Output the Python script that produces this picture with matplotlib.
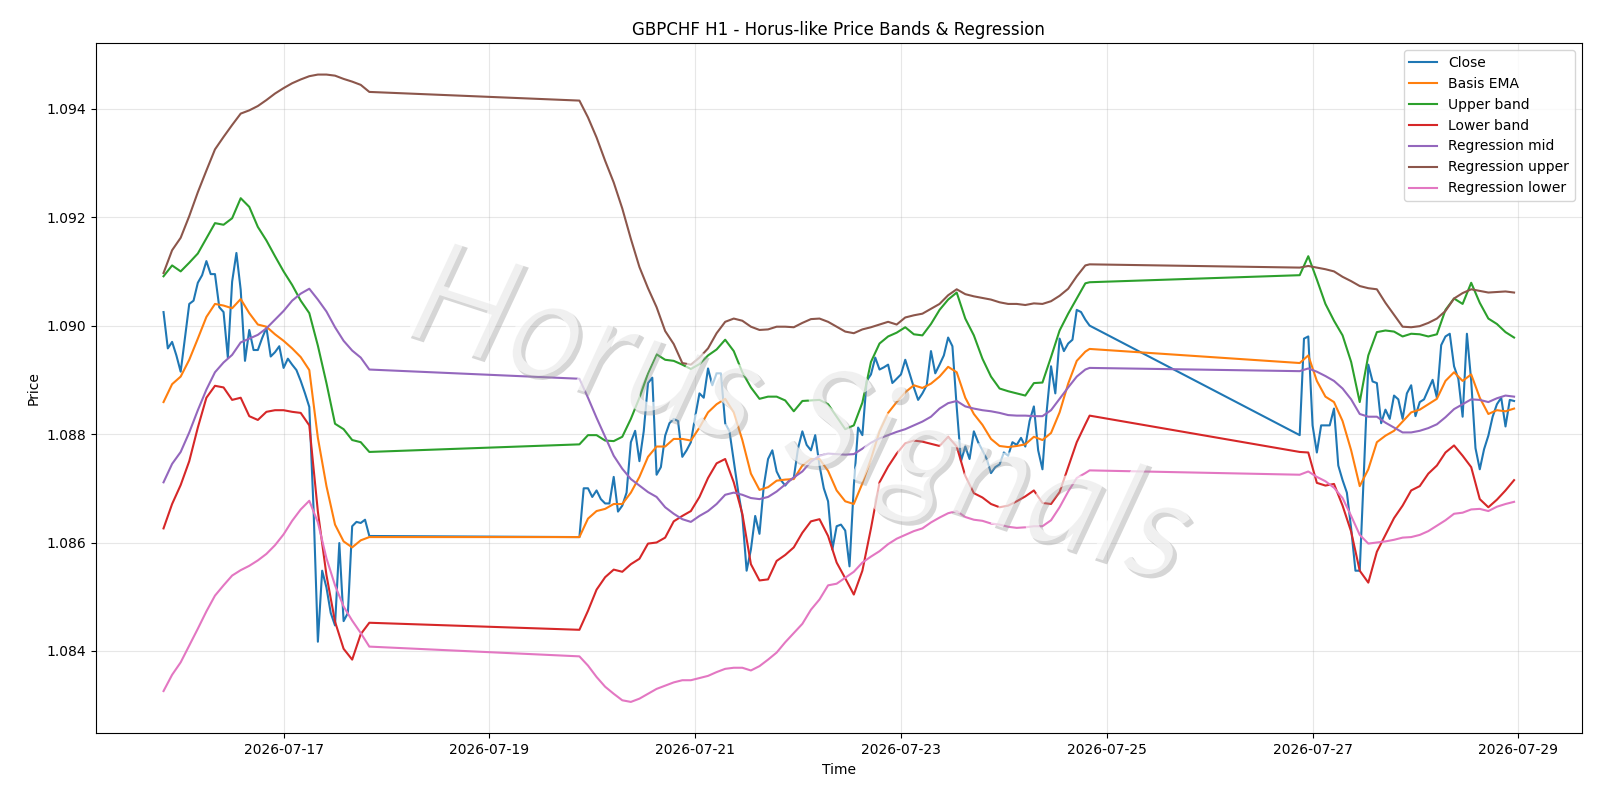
import matplotlib
matplotlib.use('Agg')
import matplotlib.pyplot as plt
import matplotlib.patheffects as pe
import pandas as pd

# Barras H1 - tres blocos de negociacao (fins de semana ficam de fora)
periodos = [('2026-07-15 20:00', '2026-07-17 20:00'),
            ('2026-07-19 21:00', '2026-07-24 20:00'),
            ('2026-07-26 21:00', '2026-07-28 23:00')]

close = [
    # 07-15 20:00 -> 07-17 20:00
    1.09025, 1.08958, 1.08970, 1.08945, 1.08915, 1.08977, 1.09040, 1.09046, 1.09079, 1.09093,
    1.09119, 1.09095, 1.09095, 1.09034, 1.09025, 1.08941, 1.09081, 1.09134, 1.09066, 1.08935,
    1.08992, 1.08955, 1.08955, 1.08977, 1.08996, 1.08943, 1.08951, 1.08962, 1.08922, 1.08939,
    1.08928, 1.08918, 1.08898, 1.08875, 1.08850, 1.08660, 1.08417, 1.08548, 1.08517, 1.08470,
    1.08447, 1.08599, 1.08455, 1.08470, 1.08630, 1.08638, 1.08636, 1.08642, 1.08612,
    # 07-19 21:00 -> 07-24 20:00
    1.08610, 1.08700, 1.08700, 1.08684, 1.08696, 1.08680, 1.08672, 1.08672, 1.08721, 1.08657,
    1.08668, 1.08692, 1.08785, 1.08806, 1.08750, 1.08805, 1.08894, 1.08904, 1.08725, 1.08739,
    1.08797, 1.08820, 1.08828, 1.08824, 1.08758, 1.08770, 1.08785, 1.08832, 1.08875, 1.08867,
    1.08921, 1.08890, 1.08912, 1.08912, 1.08820, 1.08805, 1.08750, 1.08696, 1.08649, 1.08548,
    1.08587, 1.08649, 1.08616, 1.08704, 1.08754, 1.08770, 1.08731, 1.08715, 1.08705, 1.08715,
    1.08719, 1.08774, 1.08805, 1.08780, 1.08770, 1.08798, 1.08742, 1.08700, 1.08676, 1.08587,
    1.08630, 1.08633, 1.08622, 1.08556, 1.08704, 1.08812, 1.08798, 1.08898, 1.08910, 1.08941,
    1.08919, 1.08923, 1.08928, 1.08894, 1.08902, 1.08910, 1.08937, 1.08912, 1.08886, 1.08863,
    1.08875, 1.08890, 1.08953, 1.08912, 1.08928, 1.08945, 1.08978, 1.08962, 1.08850, 1.08750,
    1.08777, 1.08754, 1.08805, 1.08785, 1.08770, 1.08754, 1.08728, 1.08739, 1.08744, 1.08766,
    1.08760, 1.08785, 1.08780, 1.08793, 1.08777, 1.08824, 1.08851, 1.08770, 1.08735, 1.08843,
    1.08925, 1.08875, 1.08976, 1.08953, 1.08967, 1.08974, 1.09029, 1.09025, 1.09011, 1.09000,
    # 07-26 21:00 -> 07-28 23:00
    1.08798, 1.08976, 1.08980, 1.08816, 1.08766, 1.08816, 1.08816, 1.08816, 1.08847, 1.08742,
    1.08715, 1.08692, 1.08626, 1.08548, 1.08548, 1.08735, 1.08928, 1.08897, 1.08894, 1.08820,
    1.08845, 1.08828, 1.08871, 1.08864, 1.08828, 1.08875, 1.08890, 1.08833, 1.08859, 1.08864,
    1.08882, 1.08900, 1.08867, 1.08964, 1.08980, 1.08985, 1.08925, 1.08902, 1.08832, 1.08985,
    1.08898, 1.08774, 1.08735, 1.08772, 1.08797, 1.08832, 1.08855, 1.08867, 1.08814, 1.08863,
    1.08861]

# linhas suaves lidas a cada 2 horas (mais a ultima barra de cada bloco)
basis_ema = [
    1.08859, 1.08892, 1.08906, 1.08937, 1.08976, 1.09016, 1.09040, 1.09037, 1.09032, 1.09049,
    1.09023, 1.09002, 1.08998, 1.08984, 1.08972, 1.08958, 1.08942, 1.08918, 1.08793, 1.08704,
    1.08633, 1.08602, 1.08591, 1.08604, 1.08610,
    1.08610, 1.08644, 1.08658, 1.08662, 1.08671, 1.08671, 1.08692, 1.08721, 1.08758, 1.08777,
    1.08777, 1.08791, 1.08791, 1.08788, 1.08812, 1.08840, 1.08855, 1.08865, 1.08840, 1.08789,
    1.08727, 1.08697, 1.08702, 1.08714, 1.08716, 1.08717, 1.08742, 1.08754, 1.08754, 1.08732,
    1.08696, 1.08676, 1.08671, 1.08709, 1.08754, 1.08805, 1.08839, 1.08859, 1.08877, 1.08890,
    1.08885, 1.08893, 1.08906, 1.08924, 1.08914, 1.08867, 1.08837, 1.08817, 1.08791, 1.08778,
    1.08776, 1.08778, 1.08781, 1.08795, 1.08789, 1.08802, 1.08840, 1.08893, 1.08935, 1.08952,
    1.08957,
    1.08931, 1.08945, 1.08898, 1.08869, 1.08859, 1.08824, 1.08770, 1.08704, 1.08735, 1.08785,
    1.08797, 1.08806, 1.08823, 1.08840, 1.08845, 1.08855, 1.08865, 1.08898, 1.08914, 1.08898,
    1.08910, 1.08867, 1.08837, 1.08844, 1.08842, 1.08847]

upper_band = [
    1.09091, 1.09111, 1.09100, 1.09116, 1.09133, 1.09161, 1.09189, 1.09186, 1.09198, 1.09235,
    1.09219, 1.09182, 1.09157, 1.09128, 1.09100, 1.09075, 1.09046, 1.09023, 1.08963, 1.08894,
    1.08819, 1.08809, 1.08789, 1.08785, 1.08767,
    1.08781, 1.08798, 1.08798, 1.08788, 1.08787, 1.08795, 1.08828, 1.08867, 1.08912, 1.08947,
    1.08937, 1.08935, 1.08928, 1.08920, 1.08929, 1.08945, 1.08956, 1.08974, 1.08953, 1.08914,
    1.08886, 1.08865, 1.08869, 1.08869, 1.08862, 1.08842, 1.08861, 1.08862, 1.08863, 1.08855,
    1.08832, 1.08809, 1.08816, 1.08858, 1.08933, 1.08967, 1.08980, 1.08987, 1.08997, 1.08984,
    1.08982, 1.09003, 1.09029, 1.09048, 1.09061, 1.09013, 1.08982, 1.08939, 1.08906, 1.08884,
    1.08879, 1.08875, 1.08871, 1.08894, 1.08895, 1.08942, 1.08991, 1.09022, 1.09050, 1.09078,
    1.09080,
    1.09093, 1.09128, 1.09085, 1.09040, 1.09009, 1.08982, 1.08933, 1.08859, 1.08945, 1.08988,
    1.08991, 1.08989, 1.08980, 1.08985, 1.08984, 1.08980, 1.08984, 1.09029, 1.09050, 1.09040,
    1.09079, 1.09042, 1.09013, 1.09003, 1.08988, 1.08978]

lower_band = [
    1.08626, 1.08671, 1.08706, 1.08750, 1.08812, 1.08867, 1.08889, 1.08886, 1.08863, 1.08867,
    1.08833, 1.08826, 1.08841, 1.08844, 1.08844, 1.08841, 1.08839, 1.08816, 1.08657, 1.08540,
    1.08454, 1.08404, 1.08384, 1.08431, 1.08452,
    1.08439, 1.08474, 1.08513, 1.08536, 1.08550, 1.08546, 1.08560, 1.08570, 1.08598, 1.08600,
    1.08609, 1.08639, 1.08649, 1.08658, 1.08684, 1.08719, 1.08746, 1.08754, 1.08711, 1.08653,
    1.08560, 1.08530, 1.08532, 1.08566, 1.08577, 1.08591, 1.08618, 1.08639, 1.08643, 1.08612,
    1.08563, 1.08534, 1.08504, 1.08548, 1.08626, 1.08711, 1.08740, 1.08764, 1.08783, 1.08788,
    1.08786, 1.08782, 1.08778, 1.08795, 1.08777, 1.08723, 1.08691, 1.08683, 1.08671, 1.08665,
    1.08668, 1.08676, 1.08685, 1.08696, 1.08673, 1.08671, 1.08693, 1.08739, 1.08785, 1.08818,
    1.08834,
    1.08767, 1.08766, 1.08710, 1.08705, 1.08708, 1.08668, 1.08620, 1.08548, 1.08526, 1.08583,
    1.08614, 1.08645, 1.08668, 1.08696, 1.08704, 1.08727, 1.08742, 1.08766, 1.08779, 1.08760,
    1.08739, 1.08680, 1.08665, 1.08679, 1.08696, 1.08715]

reg_mid = [
    1.08711, 1.08745, 1.08767, 1.08803, 1.08844, 1.08882, 1.08914, 1.08932, 1.08946, 1.08969,
    1.08976, 1.08983, 1.08995, 1.09011, 1.09027, 1.09046, 1.09059, 1.09068, 1.09048, 1.09026,
    1.08997, 1.08972, 1.08954, 1.08941, 1.08919,
    1.08902, 1.08867, 1.08830, 1.08795, 1.08760, 1.08736, 1.08717, 1.08705, 1.08693, 1.08684,
    1.08665, 1.08653, 1.08643, 1.08638, 1.08649, 1.08658, 1.08671, 1.08688, 1.08692, 1.08688,
    1.08682, 1.08680, 1.08684, 1.08694, 1.08707, 1.08720, 1.08731, 1.08749, 1.08760, 1.08764,
    1.08763, 1.08762, 1.08763, 1.08773, 1.08784, 1.08792, 1.08798, 1.08804, 1.08809, 1.08816,
    1.08823, 1.08832, 1.08847, 1.08857, 1.08861, 1.08851, 1.08847, 1.08844, 1.08842, 1.08839,
    1.08835, 1.08834, 1.08834, 1.08833, 1.08833, 1.08844, 1.08865, 1.08886, 1.08906, 1.08919,
    1.08922,
    1.08916, 1.08921, 1.08915, 1.08907, 1.08898, 1.08884, 1.08864, 1.08837, 1.08832, 1.08832,
    1.08821, 1.08812, 1.08803, 1.08803, 1.08806, 1.08811, 1.08818, 1.08831, 1.08846, 1.08855,
    1.08864, 1.08863, 1.08859, 1.08866, 1.08871, 1.08869]

reg_upper = [
    1.09097, 1.09139, 1.09162, 1.09202, 1.09246, 1.09286, 1.09325, 1.09348, 1.09370, 1.09391,
    1.09397, 1.09405, 1.09416, 1.09428, 1.09438, 1.09447, 1.09454, 1.09460, 1.09463, 1.09463,
    1.09461, 1.09455, 1.09450, 1.09444, 1.09431,
    1.09415, 1.09384, 1.09347, 1.09304, 1.09264, 1.09216, 1.09160, 1.09108, 1.09069, 1.09034,
    1.08990, 1.08966, 1.08931, 1.08928, 1.08941, 1.08958, 1.08986, 1.09007, 1.09013, 1.09009,
    1.08998, 1.08992, 1.08993, 1.08998, 1.08998, 1.08997, 1.09005, 1.09012, 1.09013, 1.09007,
    1.08998, 1.08989, 1.08986, 1.08993, 1.08997, 1.09002, 1.09007, 1.09002, 1.09015, 1.09019,
    1.09022, 1.09031, 1.09040, 1.09056, 1.09067, 1.09058, 1.09054, 1.09051, 1.09048, 1.09043,
    1.09040, 1.09040, 1.09038, 1.09041, 1.09040, 1.09045, 1.09055, 1.09068, 1.09091, 1.09111,
    1.09113,
    1.09107, 1.09110, 1.09107, 1.09104, 1.09100, 1.09090, 1.09082, 1.09073, 1.09069, 1.09067,
    1.09042, 1.09020, 1.08998, 1.08997, 1.08999, 1.09005, 1.09013, 1.09027, 1.09050, 1.09060,
    1.09067, 1.09064, 1.09061, 1.09062, 1.09063, 1.09061]

reg_lower = [
    1.08326, 1.08356, 1.08379, 1.08410, 1.08441, 1.08473, 1.08502, 1.08521, 1.08539, 1.08549,
    1.08557, 1.08567, 1.08579, 1.08595, 1.08615, 1.08640, 1.08661, 1.08677, 1.08637, 1.08571,
    1.08521, 1.08482, 1.08456, 1.08433, 1.08408,
    1.08390, 1.08373, 1.08352, 1.08334, 1.08321, 1.08309, 1.08306, 1.08312, 1.08321, 1.08330,
    1.08336, 1.08342, 1.08346, 1.08346, 1.08350, 1.08354, 1.08361, 1.08367, 1.08369, 1.08369,
    1.08364, 1.08372, 1.08384, 1.08397, 1.08416, 1.08433, 1.08450, 1.08476, 1.08495, 1.08521,
    1.08524, 1.08535, 1.08546, 1.08563, 1.08574, 1.08584, 1.08597, 1.08607, 1.08614, 1.08621,
    1.08626, 1.08637, 1.08646, 1.08654, 1.08658, 1.08647, 1.08642, 1.08640, 1.08635, 1.08633,
    1.08629, 1.08627, 1.08628, 1.08630, 1.08630, 1.08641, 1.08665, 1.08694, 1.08719, 1.08728,
    1.08733,
    1.08725, 1.08731, 1.08721, 1.08713, 1.08701, 1.08682, 1.08649, 1.08614, 1.08598, 1.08600,
    1.08602, 1.08605, 1.08609, 1.08610, 1.08614, 1.08621, 1.08631, 1.08641, 1.08653, 1.08655,
    1.08661, 1.08662, 1.08658, 1.08666, 1.08671, 1.08675]

# eixo de tempo: todas as barras e a amostra de 2 em 2 horas
blocos = [pd.date_range(a, b, freq='h') for a, b in periodos]
tempo = blocos[0].append(blocos[1]).append(blocos[2])
partes = []
for b in blocos:
    idx = list(range(0, len(b), 2))
    if idx[-1] != len(b) - 1:
        idx.append(len(b) - 1)
    partes.append(b[idx])
tempo_2h = partes[0].append(partes[1]).append(partes[2])

fig, ax = plt.subplots(figsize=(16, 8), dpi=100)
ax.plot(tempo, close, label='Close')
ax.plot(tempo_2h, basis_ema, label='Basis EMA')
ax.plot(tempo_2h, upper_band, label='Upper band')
ax.plot(tempo_2h, lower_band, label='Lower band')
ax.plot(tempo_2h, reg_mid, label='Regression mid')
ax.plot(tempo_2h, reg_upper, label='Regression upper')
ax.plot(tempo_2h, reg_lower, label='Regression lower')

ax.set_title('GBPCHF H1 - Horus-like Price Bands & Regression')
ax.set_xlabel('Time')
ax.set_ylabel('Price')
ax.grid(True, alpha=0.3)
ax.legend(loc='upper right')

# marca d'agua: letra branca com sombra cinza
ax.text(0.473, 0.455, 'Horus Signals', transform=ax.transAxes, fontsize=104,
        family=['Lato', 'DejaVu Sans'], fontweight='normal', style='italic',
        rotation=-18, ha='center', va='center', color='white', alpha=0.65, zorder=10,
        path_effects=[pe.SimplePatchShadow(offset=(3, -3), shadow_rgbFace='#9a9a9a', alpha=0.4),
                      pe.Normal()])

plt.subplots_adjust(left=0.06, right=0.9885, top=0.946, bottom=0.0834)
plt.savefig('out.png')
